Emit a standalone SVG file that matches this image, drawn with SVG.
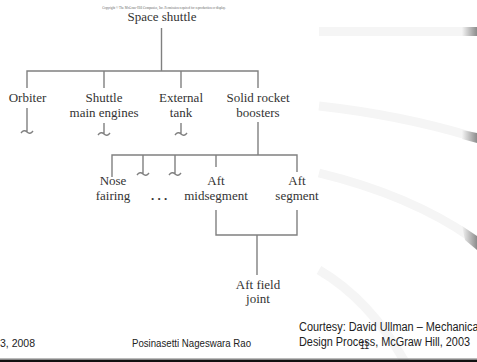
<svg xmlns="http://www.w3.org/2000/svg" width="477" height="362" viewBox="0 0 477 362">
<defs>
<linearGradient id="endcap" x1="0" y1="0" x2="1" y2="0">
<stop offset="0" stop-color="#f4f4f4"/>
<stop offset="1" stop-color="#8c8c8c"/>
</linearGradient>
<style>
.bg{fill:none;stroke:#f5f5f5;stroke-width:9}
.cap{fill:url(#endcap)}
.ln{fill:none;stroke:#808080;stroke-width:1.4}
.lbl{font-family:"Liberation Serif","Times New Roman",serif;font-size:13px;fill:#333333;text-anchor:middle}
.foot{font-family:"Liberation Sans",Arial,sans-serif;fill:#222}
</style>
</defs>
<rect width="477" height="362" fill="#ffffff"/>
<g id="background">
<path class="bg" d="M319,31.5 L468,31.5"/>
<rect class="cap" x="462" y="27" width="15" height="9"/>
<path class="bg" d="M319,106 Q400,115 470,136"/>
<path class="cap" d="M462,130 L477,133 L477,143 L462,139 Z"/>
<path class="bg" d="M319,173 Q410,195 472,238"/>
<path class="cap" d="M462,226 L477,236 L477,250 L465,240 Z"/>
<path class="bg" d="M319,270 Q370,300 405,362"/>
</g>
<text x="164" y="8.5" font-family="Liberation Serif,serif" font-size="3.2" fill="#666" text-anchor="middle">Copyright © The McGraw-Hill Companies, Inc. Permission required for reproduction or display.</text>
<g id="connectors">
<path class="ln" d="M161.5,28 V71 M27,88 V71 H258 V88 M104,71 V88 M181,71 V88"/>
<path class="ln" d="M27,108 V132 M21,133 q3,-4 6,-1 t6,-1"/>
<path class="ln" d="M104,123 V134 M98,135 q3,-4 6,-1 t6,-1"/>
<path class="ln" d="M181,123 V134 M175,135 q3,-4 6,-1 t6,-1"/>
<path class="ln" d="M258,122 V155 M112,177 V155 H297 V172 M216,155 V167"/>
<path class="ln" d="M143,155 V174 M137,175 q3,-4 6,-1 t6,-1"/>
<path class="ln" d="M175,155 V174 M169,175 q3,-4 6,-1 t6,-1"/>
<path class="ln" d="M216,210 V235 H297 V210 M257,235 V275"/>
</g>
<g id="space-shuttle"><text class="lbl" x="162" y="21" font-size="15">Space shuttle</text></g>
<g id="orbiter"><text class="lbl" x="27.5" y="102">Orbiter</text></g>
<g id="shuttle-main-engines"><text class="lbl" x="104" y="102">Shuttle</text><text class="lbl" x="104" y="117">main engines</text></g>
<g id="external-tank"><text class="lbl" x="181" y="102">External</text><text class="lbl" x="181" y="117">tank</text></g>
<g id="solid-rocket-boosters"><text class="lbl" x="258" y="102">Solid rocket</text><text class="lbl" x="258" y="117">boosters</text></g>
<g id="nose-fairing"><text class="lbl" x="113" y="185">Nose</text><text class="lbl" x="113" y="200">fairing</text></g>
<g id="ellipsis"><text class="lbl" x="159" y="200" font-weight="bold">. . .</text></g>
<g id="aft-midsegment"><text class="lbl" x="216" y="185">Aft</text><text class="lbl" x="216" y="200">midsegment</text></g>
<g id="aft-segment"><text class="lbl" x="297" y="185">Aft</text><text class="lbl" x="297" y="200">segment</text></g>
<g id="aft-field-joint"><text class="lbl" x="258" y="289">Aft field</text><text class="lbl" x="258" y="303">joint</text></g>
<g id="footer">
<text class="foot" x="0" y="347" font-size="10.5">3, 2008</text>
<text class="foot" x="132" y="347" font-size="11" textLength="119" lengthAdjust="spacingAndGlyphs">Posinasetti Nageswara Rao</text>
<text class="foot" x="299" y="331" font-size="12" textLength="182" lengthAdjust="spacingAndGlyphs">Courtesy: David Ullman – Mechanical</text>
<text class="foot" x="299" y="346" font-size="12" textLength="171" lengthAdjust="spacingAndGlyphs">Design Process, McGraw Hill, 2003</text>
<text class="foot" x="360" y="349" font-size="10" textLength="9" lengthAdjust="spacingAndGlyphs">11</text>
<rect x="0" y="358" width="477" height="1" fill="#bbbbbb"/>
<rect x="0" y="359.5" width="477" height="2.5" fill="#111111"/>
</g>
</svg>
